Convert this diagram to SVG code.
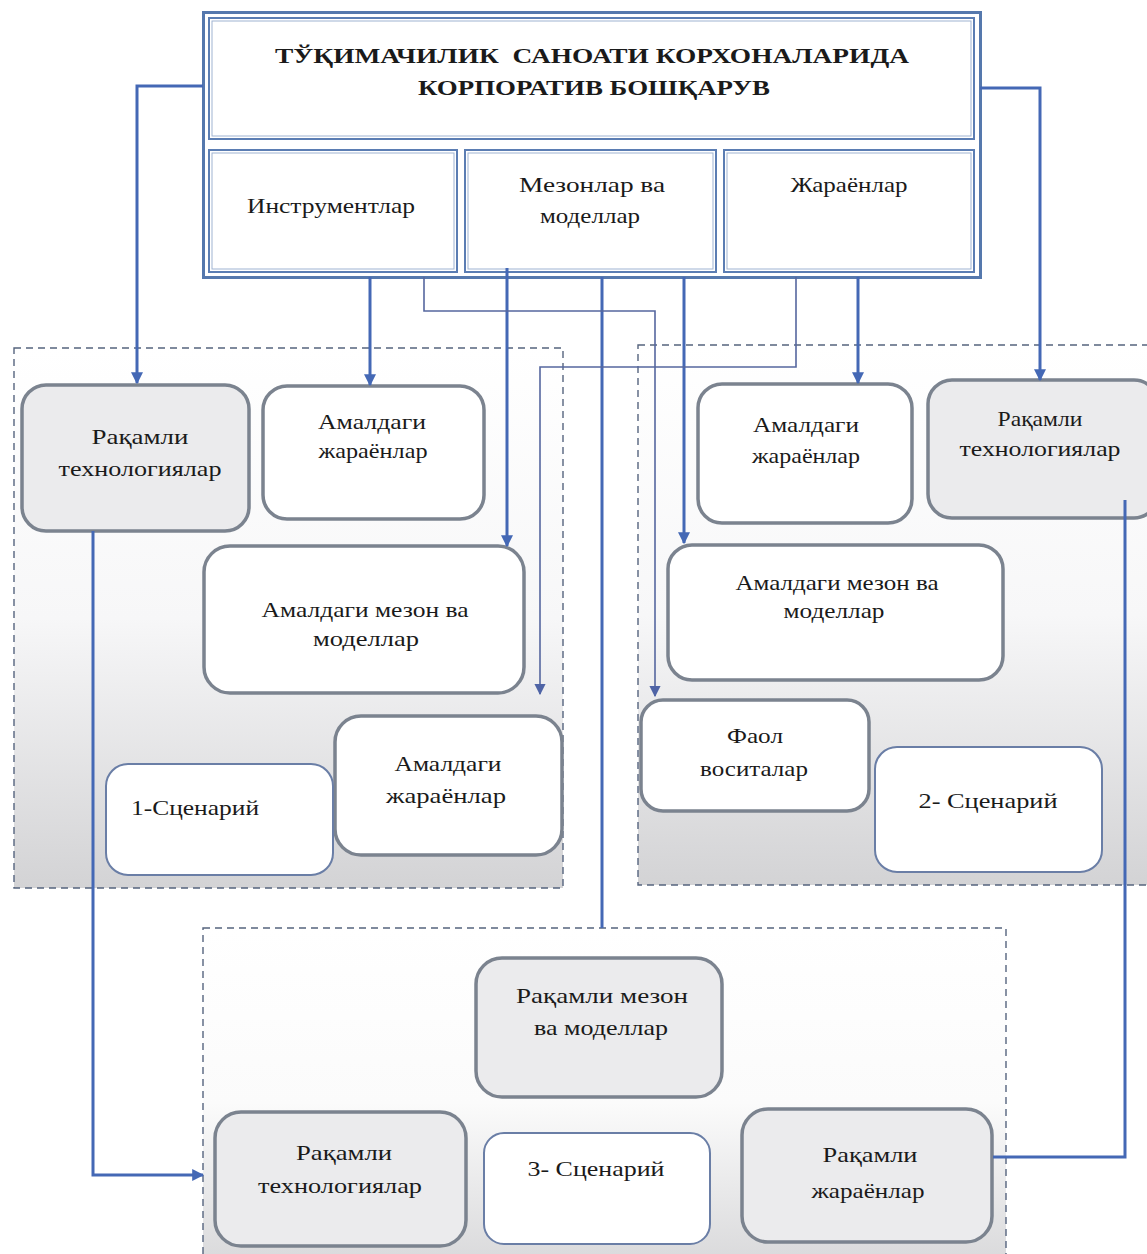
<svg xmlns="http://www.w3.org/2000/svg" width="1147" height="1254" viewBox="0 0 1147 1254">
  <defs>
    <linearGradient id="panelFill" x1="0" y1="0" x2="0" y2="1">
      <stop offset="0" stop-color="#ffffff"/>
      <stop offset="0.5" stop-color="#f7f7f8"/>
      <stop offset="1" stop-color="#d3d3d5"/>
    </linearGradient>
    <linearGradient id="bottomFill" x1="0" y1="0" x2="0" y2="1">
      <stop offset="0" stop-color="#ffffff"/>
      <stop offset="0.5" stop-color="#fbfbfb"/>
      <stop offset="1" stop-color="#d6d6d8"/>
    </linearGradient>
    <marker id="arrow" viewBox="0 0 10 10" refX="9" refY="5" markerWidth="4" markerHeight="4" orient="auto" markerUnits="strokeWidth">
      <path d="M0,0 L10,5 L0,10 z" fill="#4468b5"/>
    </marker>
    <marker id="arrowThin" viewBox="0 0 10 10" refX="9" refY="5" markerWidth="7" markerHeight="7" orient="auto" markerUnits="strokeWidth">
      <path d="M0,0 L10,5 L0,10 z" fill="#4f64a6"/>
    </marker>
  </defs>
  <style>
    text { font-family: "Liberation Serif", "Times New Roman", serif; fill: #1a1a1a; text-anchor: middle; dominant-baseline: central; }
    .title { font-weight: bold; font-size: 22px; }
    .lbl { font-size: 22px; }
    .frame { fill: #ffffff; stroke: #5578ad; stroke-width: 3; }
    .inner { fill: none; stroke: #5b7db3; stroke-width: 2; }
    .innerLight { fill: none; stroke: #9fb3d2; stroke-width: 1; }
    .panel { stroke: #56647e; stroke-width: 1.4; stroke-dasharray: 7 5; }
    .node { fill: #ffffff; stroke: #7b838f; stroke-width: 3.5; }
    .node.gray { fill: #ebebed; }
    .scen { fill: #ffffff; stroke: #6a7ea6; stroke-width: 2; }
    .wire { fill: none; stroke: #4468b5; stroke-width: 3; }
    .thin { fill: none; stroke: #56679f; stroke-width: 1.6; }
  </style>

  <!-- dashed scenario panels -->
  <g id="panels">
    <rect id="panel-1" class="panel" x="14" y="348" width="549" height="540" fill="url(#panelFill)"/>
    <rect id="panel-2" class="panel" x="638" y="345" width="530" height="540" fill="url(#panelFill)"/>
    <rect id="panel-3" class="panel" x="203" y="928" width="803" height="350" fill="url(#bottomFill)"/>
  </g>

  <!-- heading block -->
  <g id="heading">
    <rect class="frame" x="203.5" y="12.5" width="777" height="265"/>
    <rect class="inner" x="209" y="18" width="765" height="121"/>
    <rect class="innerLight" x="212" y="21" width="759" height="115"/>
    <text class="title" x="592" y="55" textLength="634" lengthAdjust="spacingAndGlyphs">ТЎҚИМАЧИЛИК&#160; САНОАТИ КОРХОНАЛАРИДА</text>
    <text class="title" x="594" y="87" textLength="352" lengthAdjust="spacingAndGlyphs">КОРПОРАТИВ БОШҚАРУВ</text>
  </g>

  <g id="instruments">
    <rect class="inner" x="209" y="150" width="248" height="122"/>
    <rect class="innerLight" x="212" y="153" width="242" height="116"/>
    <text class="lbl" x="331" y="205" textLength="168" lengthAdjust="spacingAndGlyphs">Инструментлар</text>
  </g>
  <g id="criteria">
    <rect class="inner" x="465" y="150" width="251" height="122"/>
    <rect class="innerLight" x="468" y="153" width="245" height="116"/>
    <text class="lbl" x="592" y="184" textLength="146" lengthAdjust="spacingAndGlyphs">Мезонлар ва</text>
    <text class="lbl" x="590" y="215" textLength="100" lengthAdjust="spacingAndGlyphs">моделлар</text>
  </g>
  <g id="processes">
    <rect class="inner" x="724" y="150" width="250" height="122"/>
    <rect class="innerLight" x="727" y="153" width="244" height="116"/>
    <text class="lbl" x="849" y="184" textLength="117" lengthAdjust="spacingAndGlyphs">Жараёнлар</text>
  </g>

  <!-- scenario 1 -->
  <g id="s1-digital-tech">
    <rect class="node gray" x="22" y="385" width="227" height="146" rx="24"/>
    <text class="lbl" x="140" y="436" textLength="97" lengthAdjust="spacingAndGlyphs">Рақамли</text>
    <text class="lbl" x="140" y="468" textLength="163" lengthAdjust="spacingAndGlyphs">технологиялар</text>
  </g>
  <g id="s1-current-processes">
    <rect class="node" x="263" y="386" width="221" height="133" rx="24"/>
    <text class="lbl" x="372" y="421" textLength="108" lengthAdjust="spacingAndGlyphs">Амалдаги</text>
    <text class="lbl" x="373" y="450" textLength="109" lengthAdjust="spacingAndGlyphs">жараёнлар</text>
  </g>
  <g id="s1-current-criteria">
    <rect class="node" x="204" y="546" width="320" height="147" rx="26"/>
    <text class="lbl" x="365" y="609" textLength="207" lengthAdjust="spacingAndGlyphs">Амалдаги мезон ва</text>
    <text class="lbl" x="366" y="638" textLength="106" lengthAdjust="spacingAndGlyphs">моделлар</text>
  </g>
  <g id="s1-current-processes-2">
    <rect class="node" x="335" y="716" width="227" height="139" rx="26"/>
    <text class="lbl" x="448" y="763" textLength="107" lengthAdjust="spacingAndGlyphs">Амалдаги</text>
    <text class="lbl" x="446" y="795" textLength="120" lengthAdjust="spacingAndGlyphs">жараёнлар</text>
  </g>
  <g id="s1-scenario">
    <rect class="scen" x="106" y="764" width="227" height="111" rx="22"/>
    <text class="lbl" x="195" y="807" textLength="128" lengthAdjust="spacingAndGlyphs">1-Сценарий</text>
  </g>

  <!-- scenario 2 -->
  <g id="s2-current-processes">
    <rect class="node" x="698" y="384" width="214" height="139" rx="24"/>
    <text class="lbl" x="806" y="424" textLength="106" lengthAdjust="spacingAndGlyphs">Амалдаги</text>
    <text class="lbl" x="806" y="455" textLength="108" lengthAdjust="spacingAndGlyphs">жараёнлар</text>
  </g>
  <g id="s2-digital-tech">
    <rect class="node gray" x="928" y="380" width="230" height="138" rx="24"/>
    <text class="lbl" x="1040" y="418" textLength="85" lengthAdjust="spacingAndGlyphs">Рақамли</text>
    <text class="lbl" x="1040" y="448" textLength="161" lengthAdjust="spacingAndGlyphs">технологиялар</text>
  </g>
  <g id="s2-current-criteria">
    <rect class="node" x="668" y="545" width="335" height="135" rx="24"/>
    <text class="lbl" x="837" y="582" textLength="203" lengthAdjust="spacingAndGlyphs">Амалдаги мезон ва</text>
    <text class="lbl" x="834" y="610" textLength="101" lengthAdjust="spacingAndGlyphs">моделлар</text>
  </g>
  <g id="s2-active-tools">
    <rect class="node" x="641" y="700" width="228" height="111" rx="22"/>
    <text class="lbl" x="755" y="735" textLength="56" lengthAdjust="spacingAndGlyphs">Фаол</text>
    <text class="lbl" x="754" y="768" textLength="108" lengthAdjust="spacingAndGlyphs">воситалар</text>
  </g>
  <g id="s2-scenario">
    <rect class="scen" x="875" y="747" width="227" height="125" rx="22"/>
    <text class="lbl" x="988" y="800" textLength="139" lengthAdjust="spacingAndGlyphs">2- Сценарий</text>
  </g>

  <!-- scenario 3 -->
  <g id="s3-digital-criteria">
    <rect class="node gray" x="476" y="958" width="246" height="139" rx="26"/>
    <text class="lbl" x="602" y="995" textLength="172" lengthAdjust="spacingAndGlyphs">Рақамли мезон</text>
    <text class="lbl" x="601" y="1027" textLength="134" lengthAdjust="spacingAndGlyphs">ва моделлар</text>
  </g>
  <g id="s3-digital-tech">
    <rect class="node gray" x="215" y="1112" width="251" height="134" rx="26"/>
    <text class="lbl" x="344" y="1152" textLength="96" lengthAdjust="spacingAndGlyphs">Рақамли</text>
    <text class="lbl" x="340" y="1185" textLength="164" lengthAdjust="spacingAndGlyphs">технологиялар</text>
  </g>
  <g id="s3-scenario">
    <rect class="scen" x="484" y="1133" width="226" height="111" rx="20"/>
    <text class="lbl" x="596" y="1168" textLength="137" lengthAdjust="spacingAndGlyphs">3- Сценарий</text>
  </g>
  <g id="s3-digital-processes">
    <rect class="node gray" x="742" y="1109" width="250" height="133" rx="26"/>
    <text class="lbl" x="870" y="1154" textLength="95" lengthAdjust="spacingAndGlyphs">Рақамли</text>
    <text class="lbl" x="868" y="1190" textLength="113" lengthAdjust="spacingAndGlyphs">жараёнлар</text>
  </g>

  <!-- connectors -->
  <g id="connectors">
    <path class="wire" d="M203,86 H137 V383" marker-end="url(#arrow)"/>
    <path class="wire" d="M980,88 H1040 V380" marker-end="url(#arrow)"/>
    <path class="wire" d="M370,277 V385" marker-end="url(#arrow)"/>
    <path class="wire" d="M858,277 V383" marker-end="url(#arrow)"/>
    <path class="wire" d="M507,268 V546" marker-end="url(#arrow)"/>
    <path class="wire" d="M684,277 V543" marker-end="url(#arrow)"/>
    <path class="wire" d="M602,277 V928"/>
    <path class="thin" d="M424,277 V311 H655 V696" marker-end="url(#arrowThin)"/>
    <path class="thin" d="M796,277 V367 H540 V694" marker-end="url(#arrowThin)"/>
    <path class="wire" d="M93,531 V1175 H203" marker-end="url(#arrow)"/>
    <path class="wire" d="M1125,500 V1157 H993"/>
  </g>
</svg>
